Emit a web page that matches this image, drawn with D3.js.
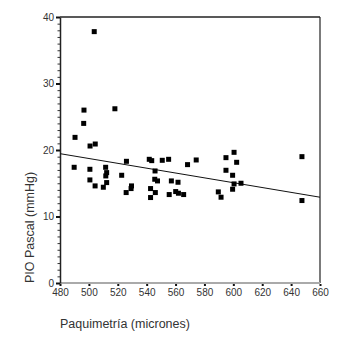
<!DOCTYPE html>
<html><head><meta charset="utf-8">
<script src="https://cdn.jsdelivr.net/npm/d3@7"></script>
<style>body{margin:0;background:#fff}svg{display:block}</style>
</head><body>
<svg id="c" width="338" height="345"></svg>
<script>
const paquimetria = [503.7,518,496.6,496.4,490.4,500.8,504.4,526,489.8,500.7,511.6,512.3,511.7,522.7,500.7,512.3,504.3,510,529.5,529.2,525.8,541.8,543.5,550.8,555.2,568.3,574.3,545.8,545.6,547.5,557.1,561.7,542.7,546,542.7,555.6,560.1,562,565.6,600.5,594.9,602.3,594.9,599.5,600.5,605.3,599.5,589.6,591.5,647.5,647.5];
const pio = [37.8,26.2,26.0,24.0,21.9,20.6,20.9,18.3,17.4,17.1,17.4,16.6,16.1,16.2,15.5,15.1,14.6,14.4,14.6,14.2,13.6,18.6,18.4,18.45,18.6,17.8,18.5,16.85,15.6,15.35,15.35,15.15,14.2,13.6,12.85,13.3,13.75,13.5,13.3,19.65,18.85,18.15,16.95,16.2,14.9,15.0,14.1,13.7,12.9,19.0,12.4];
const fitX = [480, 660];
const fitY = [19.45, 12.9];
const xTicks = [480,500,520,540,560,580,600,620,640,660];
const yTicks = [0,10,20,30,40];
const xTitle = "Paquimetría (micrones)";
const yTitle = "PIO Pascal (mmHg)";

const svg = d3.select("#c");
const L=60,R=320,T=17,B=283;
const x = d3.scaleLinear().domain([480,660]).range([L,R]);
const y = d3.scaleLinear().domain([0,40]).range([B,T]);
const font = "Arial, 'Liberation Sans', sans-serif";

// top and right frame
svg.append("line").attr("x1",L).attr("x2",R).attr("y1",T).attr("y2",T).attr("stroke","#222").attr("stroke-width",1.5);
svg.append("line").attr("x1",R).attr("x2",R).attr("y1",T).attr("y2",B).attr("stroke","#222").attr("stroke-width",1.2);

// bottom axis (gray line with dot ticks)
svg.append("line").attr("x1",L).attr("x2",R).attr("y1",B).attr("y2",B).attr("stroke","#aaa").attr("stroke-width",2);
const gx = svg.append("g").attr("transform",`translate(0,${B+1})`)
  .call(d3.axisBottom(x).tickValues(xTicks).tickSize(2).tickPadding(3).tickFormat(d3.format("d")));
gx.select(".domain").remove();
gx.selectAll(".tick line").attr("stroke","#111").attr("stroke-width",2);
gx.selectAll(".tick text").attr("font-family",font).attr("font-size",10).attr("fill","#333");

// left axis with minor ticks
const minor = d3.range(0,41,1).filter(v=>v%10!==0);
const gym = svg.append("g").attr("transform",`translate(${L},0)`)
  .call(d3.axisLeft(y).tickValues(minor).tickSize(2.5).tickFormat(""));
gym.select(".domain").remove();
gym.selectAll(".tick line").attr("stroke","#333");
const gy = svg.append("g").attr("transform",`translate(${L},0)`)
  .call(d3.axisLeft(y).tickValues(yTicks).tickSize(4).tickPadding(2).tickSizeOuter(0));
gy.select(".domain").attr("stroke","#222").attr("stroke-width",1.5);
gy.selectAll(".tick line").attr("stroke","#111").attr("stroke-width",2);
gy.selectAll(".tick text").attr("font-family",font).attr("font-size",10).attr("fill","#333");

// regression line
svg.append("line").attr("x1",x(fitX[0])).attr("y1",y(fitY[0])).attr("x2",x(fitX[1])).attr("y2",y(fitY[1]))
  .attr("stroke","#111").attr("stroke-width",1);

// points
const s = 5;
svg.append("g").selectAll("rect").data(paquimetria.map((d,i)=>[d,pio[i]])).join("rect")
  .attr("x",d=>x(d[0])-s/2).attr("y",d=>y(d[1])-s/2).attr("width",s).attr("height",s).attr("fill","#000");

// titles
svg.append("text").attr("x",L).attr("y",328).attr("font-family",font).attr("font-size",12.5).attr("fill","#333").text(xTitle);
svg.append("text").attr("transform",`translate(34,${B}) rotate(-90)`).attr("font-family",font).attr("font-size",12.5).attr("fill","#333").text(yTitle);
</script>
</body></html>
